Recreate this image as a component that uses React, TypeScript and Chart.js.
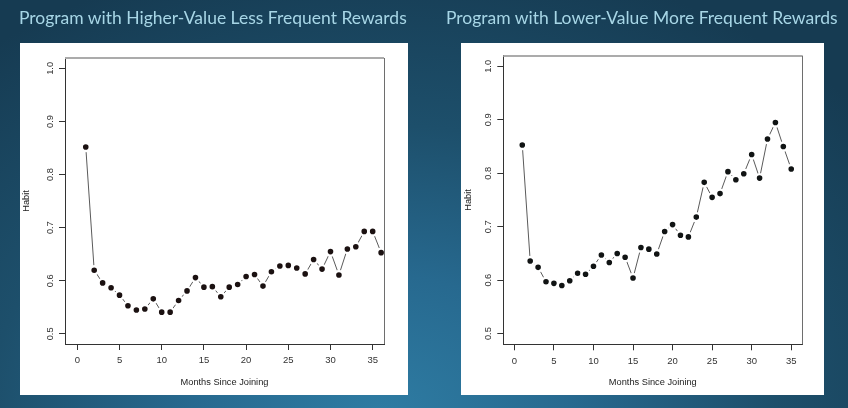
import React, { useEffect, useRef } from "react";
import { Chart, registerables } from "chart.js";

Chart.register(...registerables);

// ---- data ----
const monthsLeft = [1, 2, 3, 4, 5, 6, 7, 8, 9, 10, 11, 12, 13, 14, 15, 16, 17, 18, 19, 20, 21, 22, 23, 24, 25, 26, 27, 28, 29, 30, 31, 32, 33, 34, 35, 36];
const habitLeft = [0.852, 0.620, 0.596, 0.587, 0.573, 0.553, 0.545, 0.547, 0.566, 0.541, 0.541, 0.563, 0.581, 0.606, 0.588, 0.589, 0.570, 0.588, 0.593, 0.608, 0.612, 0.590, 0.617, 0.628, 0.629, 0.624, 0.613, 0.640, 0.622, 0.655, 0.611, 0.660, 0.664, 0.693, 0.693, 0.653];

const monthsRight = [1, 2, 3, 4, 5, 6, 7, 8, 9, 10, 11, 12, 13, 14, 15, 16, 17, 18, 19, 20, 21, 22, 23, 24, 25, 26, 27, 28, 29, 30, 31, 32, 33, 34, 35];
const habitRight = [0.853, 0.636, 0.624, 0.597, 0.594, 0.590, 0.599, 0.613, 0.611, 0.626, 0.647, 0.633, 0.650, 0.643, 0.604, 0.661, 0.658, 0.649, 0.691, 0.704, 0.684, 0.681, 0.718, 0.783, 0.755, 0.762, 0.803, 0.788, 0.799, 0.835, 0.791, 0.864, 0.895, 0.850, 0.808];

const xTicks = [0, 5, 10, 15, 20, 25, 30, 35];
const xTickLabels = ["0", "5", "10", "15", "20", "25", "30", "35"];
const yTicks = [0.5, 0.6, 0.7, 0.8, 0.9, 1.0];
const yTickLabels = ["0.5", "0.6", "0.7", "0.8", "0.9", "1.0"];

const titleLeft = "Program with Higher-Value Less Frequent Rewards";
const titleRight = "Program with Lower-Value More Frequent Rewards";
const xTitle = "Months Since Joining";
const yTitle = "Habit";

const AXIS_FONT = '"Liberation Sans", Arial, Helvetica, sans-serif';

type PanelProps = {
  months: number[];
  habit: number[];
  width: number;
  height: number;
  xMin: number;
  xMax: number;
  yMin: number;
  yMax: number;
  padTop: number;
  padRight: number;
  yAxisWidth: number;
  xAxisHeight: number;
  yTitlePad: number;
  pointColor: string;
};

function Panel(p: PanelProps) {
  const ref = useRef<HTMLCanvasElement | null>(null);
  useEffect(() => {
    if (!ref.current) return;
    const framePlugin = {
      id: "rframe",
      afterDatasetsDraw(chart: any) {
        const { ctx, chartArea } = chart;
        ctx.save();
        ctx.strokeStyle = "#ababab";
        ctx.lineWidth = 2;
        ctx.beginPath();
        ctx.moveTo(chartArea.left, Math.round(chartArea.top));
        ctx.lineTo(chartArea.right, Math.round(chartArea.top));
        ctx.stroke();
        ctx.strokeStyle = "#6e6e6e";
        ctx.lineWidth = 1;
        ctx.beginPath();
        ctx.moveTo(Math.round(chartArea.right) + 0.5, chartArea.top);
        ctx.lineTo(Math.round(chartArea.right) + 0.5, chartArea.bottom);
        ctx.stroke();
        ctx.restore();
      },
      afterDraw(chart: any) {
        const { ctx, chartArea } = chart;
        const ys = chart.scales.y;
        ctx.save();
        ctx.fillStyle = "#333";
        ctx.font = `9.25px ${AXIS_FONT}`;
        ctx.textAlign = "center";
        ctx.textBaseline = "alphabetic";
        yTicks.forEach((v, i) => {
          const y = ys.getPixelForValue(v);
          ctx.save();
          ctx.translate(chartArea.left - 12, y);
          ctx.rotate(-Math.PI / 2);
          ctx.fillText(yTickLabels[i], 0, 0);
          ctx.restore();
        });
        ctx.restore();
      },
    };
    const chart = new Chart(ref.current, {
      type: "line",
      data: {
        datasets: [
          {
            data: p.months.map((m, i) => ({ x: m, y: p.habit[i] })),
            borderColor: "#5a5a5a",
            borderWidth: 1,
            pointRadius: 4,
            pointBackgroundColor: p.pointColor,
            pointBorderColor: "#ffffff",
            pointBorderWidth: 2.4,
            tension: 0,
            fill: false,
          },
        ],
      },
      options: {
        animation: false,
        responsive: false,
        devicePixelRatio: 1,
        layout: { padding: { left: 0, top: p.padTop, right: p.padRight, bottom: 0 } },
        plugins: { legend: { display: false }, tooltip: { enabled: false }, title: { display: false } },
        scales: {
          x: {
            type: "linear",
            min: p.xMin,
            max: p.xMax,
            afterBuildTicks: (s: any) => {
              s.ticks = xTicks.map((v) => ({ value: v }));
            },
            afterFit: (s: any) => {
              s.height = p.xAxisHeight;
            },
            grid: { display: true, drawOnChartArea: false, drawTicks: true, tickLength: 6, color: "#333", lineWidth: 1 },
            border: { display: true, color: "#333", width: 1 },
            ticks: {
              color: "#333",
              font: { family: AXIS_FONT, size: 9.5 },
              padding: 5,
              maxRotation: 0,
              minRotation: 0,
              autoSkip: false,
              callback: (v: any) => {
                const i = xTicks.indexOf(Number(v));
                return i >= 0 ? xTickLabels[i] : "";
              },
            },
            title: {
              display: true,
              text: xTitle,
              color: "#222",
              font: { family: AXIS_FONT, size: 9.25, lineHeight: 1.2 },
              padding: { top: 0, bottom: 6.5 },
            },
          },
          y: {
            type: "linear",
            min: p.yMin,
            max: p.yMax,
            afterBuildTicks: (s: any) => {
              s.ticks = yTicks.map((v) => ({ value: v }));
            },
            afterFit: (s: any) => {
              s.width = p.yAxisWidth;
            },
            grid: { display: true, drawOnChartArea: false, drawTicks: true, tickLength: 6, color: "#333", lineWidth: 1 },
            border: { display: true, color: "#333", width: 1 },
            ticks: { display: false },
            title: {
              display: true,
              text: yTitle,
              color: "#222",
              font: { family: AXIS_FONT, size: 9.25, lineHeight: 1.2 },
              padding: { top: p.yTitlePad, bottom: 0 },
            },
          },
        },
      },
      plugins: [framePlugin],
    } as any);
    return () => chart.destroy();
  }, []);
  return <canvas ref={ref} width={p.width} height={p.height} style={{ display: "block", width: p.width, height: p.height }} />;
}

const titleStyle: React.CSSProperties = {
  position: "absolute",
  top: 6,
  fontFamily: "Lato, 'Open Sans', sans-serif",
  fontSize: 17.5,
  color: "#a7d6e6",
  whiteSpace: "nowrap",
  lineHeight: "24px",
};

export default function App() {
  return (
    <div
      style={{
        position: "fixed",
        left: 0,
        top: 0,
        width: 848,
        height: 408,
        overflow: "hidden",
        background:
          "radial-gradient(ellipse 75% 115% at 45% 102%, #2e7ca3 0%, #27698f 30%, #1d4f6b 62%, #163b52 100%)",
      }}
    >
      <div style={{ ...titleStyle, left: 19 }}>{titleLeft}</div>
      <div style={{ ...titleStyle, left: 446 }}>{titleRight}</div>
      <div style={{ position: "absolute", left: 20, top: 43, width: 388, height: 352, background: "#fff" }}>
        <Panel
          months={monthsLeft}
          habit={habitLeft}
          width={388}
          height={352}
          xMin={-1.46}
          xMax={36.34}
          yMin={0.481}
          yMax={1.0195}
          padTop={15}
          padRight={24}
          yAxisWidth={45}
          xAxisHeight={51}
          yTitlePad={0.5}
          pointColor="#1b1111"
        />
      </div>
      <div style={{ position: "absolute", left: 461, top: 43, width: 363, height: 352, background: "#fff" }}>
        <Panel
          months={monthsRight}
          habit={habitRight}
          width={363}
          height={352}
          xMin={-1.4}
          xMax={36.4}
          yMin={0.48}
          yMax={1.02}
          padTop={12.7}
          padRight={21.7}
          yAxisWidth={42.3}
          xAxisHeight={50.7}
          yTitlePad={1.75}
          pointColor="#111414"
        />
      </div>
    </div>
  );
}
